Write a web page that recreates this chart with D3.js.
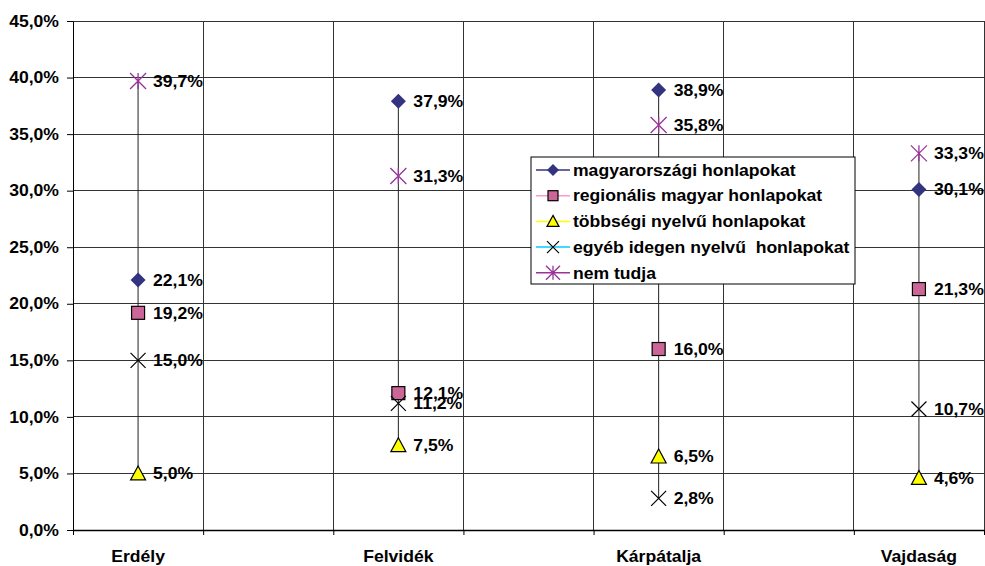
<!DOCTYPE html>
<html>
<head>
<meta charset="utf-8">
<script src="https://cdn.jsdelivr.net/npm/d3@7"></script>
<style>
  html, body { margin: 0; padding: 0; background: #fff; }
  svg text { font-family: "Liberation Sans", Arial, sans-serif; font-weight: bold; font-size: 16px; fill: #000; white-space: pre; }
</style>
</head>
<body>
<svg id="chart" width="985" height="566"></svg>
<script>
// category slots along the x axis (blank slots are empty columns in the original)
const slots = ["Erdély", "", "Felvidék", "", "Kárpátalja", "", "Vajdaság"];
const regions = ["Erdély", "Felvidék", "Kárpátalja", "Vajdaság"];

const seriesNames = [
  "magyarországi honlapokat",
  "regionális magyar honlapokat",
  "többségi nyelvű honlapokat",
  "egyéb idegen nyelvű  honlapokat",
  "nem tudja"
];

// values in % per region (same order as regions)
const magyarorszagi = [22.1, 37.9, 38.9, 30.1];
const regionalis    = [19.2, 12.1, 16.0, 21.3];
const tobbsegi      = [5.0, 7.5, 6.5, 4.6];
const egyeb         = [15.0, 11.2, 2.8, 10.7];
const nemTudja      = [39.7, 31.3, 35.8, 33.3];

const yTicks = [0, 5, 10, 15, 20, 25, 30, 35, 40, 45];

const seriesValues = [magyarorszagi, regionalis, tobbsegi, egyeb, nemTudja];
const markerKinds = ["diamond", "square", "triangle", "cross", "star"];
const lineColors = ["#333380", "#ff99cc", "#ffff00", "#00ccff", "#993399"];

const SX = 1.1; // the original picture is stretched sideways a bit
const fmt = v => v.toFixed(1).replace(".", ",") + "%";

const svg = d3.select("#chart");
const m = { left: 73, right: 984, top: 21, bottom: 530 };

const x = d3.scaleLinear().domain([0, slots.length]).range([m.left, m.right]);
const y = d3.scaleLinear().domain([0, 45]).range([m.bottom, m.top]);
const cx = r => x(slots.indexOf(r) + 0.5);

// grid
const grid = svg.append("g").attr("stroke", "#333").attr("stroke-width", 1).attr("shape-rendering", "crispEdges");
grid.selectAll("line.h").data(yTicks).join("line")
  .attr("x1", m.left).attr("x2", m.right)
  .attr("y1", d => y(d)).attr("y2", d => y(d));
grid.selectAll("line.v").data(d3.range(slots.length + 1)).join("line")
  .attr("x1", d => x(d)).attr("x2", d => x(d))
  .attr("y1", m.top).attr("y2", m.bottom);

// y axis
const yAxis = svg.append("g")
  .attr("transform", `translate(${m.left},0)`)
  .call(d3.axisLeft(y).tickValues(yTicks).tickFormat(fmt).tickSize(6).tickSizeOuter(0));
yAxis.attr("font-size", null).attr("font-family", null);
yAxis.select(".domain").attr("stroke", "#000");
yAxis.selectAll(".tick line").attr("stroke", "#000");
yAxis.selectAll(".tick text")
  .attr("x", -14 / SX)
  .attr("transform", `scale(${SX},1)`);

// x axis
const xAxis = svg.append("g")
  .attr("transform", `translate(0,${m.bottom})`)
  .call(d3.axisBottom(x).tickValues(d3.range(slots.length + 1)).tickFormat("").tickSize(5).tickSizeOuter(0));
xAxis.select(".domain").attr("stroke", "#000").attr("stroke-width", 1.5);
xAxis.selectAll(".tick line").attr("stroke", "#000");

svg.append("g").selectAll("text").data(slots).join("text")
  .attr("transform", (d, i) => `translate(${x(i + 0.5)},562) scale(${SX},1)`)
  .attr("text-anchor", "middle")
  .text(d => d);

// high-low connector per region
svg.append("g").selectAll("line").data(regions).join("line")
  .attr("x1", d => cx(d)).attr("x2", d => cx(d))
  .attr("y1", (d, i) => y(d3.max(seriesValues, s => s[i])))
  .attr("y2", (d, i) => y(d3.min(seriesValues, s => s[i])))
  .attr("stroke", "#222").attr("stroke-width", 1);

function marker(g, kind, s) {
  if (kind === "diamond") {
    g.append("path").attr("d", `M0,${-s}L${s},0L0,${s}L${-s},0Z`).attr("fill", "#333380");
  } else if (kind === "square") {
    g.append("rect").attr("x", -s + 1).attr("y", -s + 1).attr("width", 2 * s - 2).attr("height", 2 * s - 2)
      .attr("fill", "#cc6699").attr("stroke", "#000").attr("stroke-width", 1.2);
  } else if (kind === "triangle") {
    g.append("path").attr("d", `M0,${-s}L${s},${s - 1}L${-s},${s - 1}Z`)
      .attr("fill", "#ffff00").attr("stroke", "#000").attr("stroke-width", 1.2);
  } else if (kind === "cross") {
    g.append("path").attr("d", `M${-s},${-s}L${s},${s}M${s},${-s}L${-s},${s}`)
      .attr("stroke", "#000").attr("stroke-width", 1.2);
  } else {
    g.append("path").attr("d", `M${-s},${-s}L${s},${s}M${s},${-s}L${-s},${s}M0,${-s}L0,${s}`)
      .attr("stroke", "#993399").attr("stroke-width", 1.3);
  }
}

// points + labels
seriesValues.forEach((vals, si) => {
  const g = svg.append("g");
  vals.forEach((v, i) => {
    const pt = g.append("g").attr("transform", `translate(${cx(regions[i])},${y(v)})`);
    marker(pt, markerKinds[si], si === 4 ? 8 : 7.5);
    pt.append("text")
      .attr("x", 15 / SX).attr("dy", "0.36em")
      .attr("transform", `scale(${SX},1)`)
      .text(fmt(v));
  });
});

// legend
const lg = svg.append("g").attr("transform", "translate(531,157)");
lg.append("rect").attr("width", 324).attr("height", 127)
  .attr("fill", "#fff").attr("stroke", "#000").attr("stroke-width", 1);
seriesNames.forEach((name, i) => {
  const row = lg.append("g").attr("transform", `translate(0,${13 + i * 25.7})`);
  row.append("line").attr("x1", 5).attr("x2", 39).attr("stroke", lineColors[i]).attr("stroke-width", 1.5);
  marker(row.append("g").attr("transform", "translate(22,0)"), markerKinds[i], i === 4 ? 7 : 6);
  row.append("text").attr("x", 42 / SX).attr("dy", "0.36em")
    .attr("transform", `scale(${SX},1)`).text(name);
});
</script>
</body>
</html>
